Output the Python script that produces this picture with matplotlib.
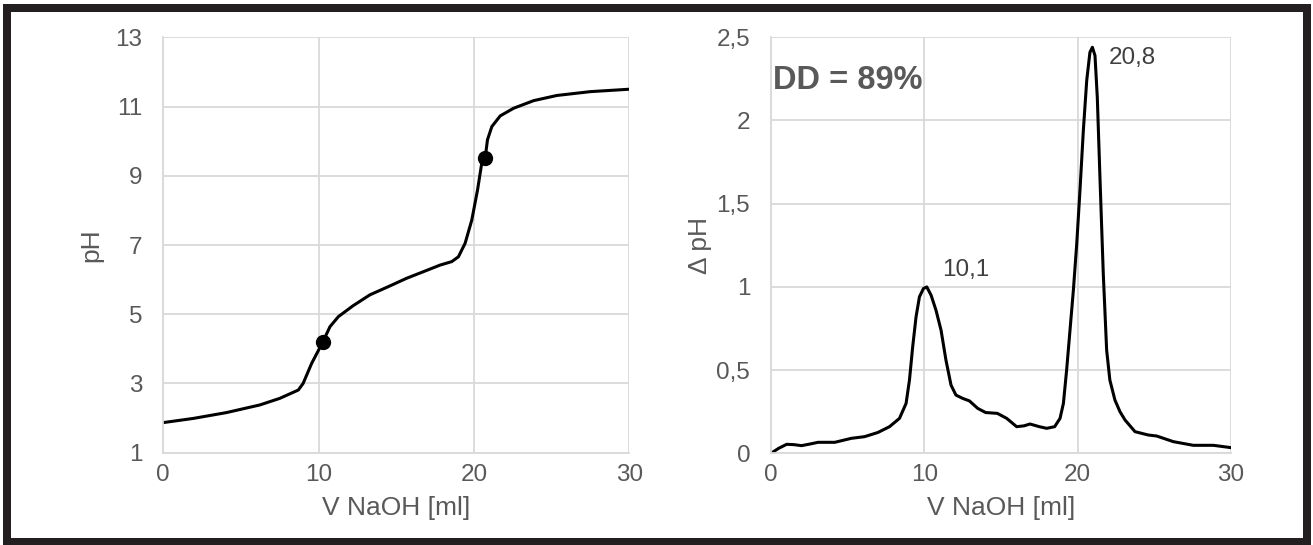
import matplotlib
matplotlib.use("Agg")
import matplotlib.pyplot as plt
from matplotlib.patches import Rectangle

plt.rcParams['font.family'] = ['Liberation Sans', 'DejaVu Sans']

# ---- data: titration curve (pH vs V NaOH) ----
v_ph = [0.0, 1.93, 4.08, 6.22, 7.5, 8.69, 9.0, 9.55, 10.26, 10.73, 11.27, 12.2, 13.3,
        14.6, 15.67, 16.75, 17.82, 18.57, 19.0, 19.43, 19.86, 20.23, 20.5, 20.72,
        20.87, 21.15, 21.69, 22.55, 23.84, 25.34, 27.49, 30.0]
ph = [1.87, 1.99, 2.16, 2.38, 2.57, 2.81, 3.0, 3.58, 4.19, 4.64, 4.93, 5.24, 5.56,
      5.82, 6.04, 6.23, 6.42, 6.52, 6.66, 7.05, 7.72, 8.59, 9.36, 9.51,
      10.04, 10.42, 10.73, 10.95, 11.17, 11.32, 11.43, 11.50]
eq_v = [10.26, 20.72]
eq_ph = [4.19, 9.51]

# ---- data: derivative curve (delta pH vs V NaOH) ----
v_d = [0.0, 0.5, 1.02, 1.5, 1.99, 2.5, 3.07, 4.16, 5.24, 6.1, 6.97, 7.73, 8.38, 8.81,
       9.03, 9.24, 9.46, 9.68, 9.94, 10.16, 10.44, 10.76, 11.09, 11.41, 11.74, 12.06,
       12.5, 12.94, 13.48, 14.0, 14.76, 15.37, 16.02, 16.5, 16.89, 17.5, 17.98, 18.5,
       18.85, 19.07, 19.28, 19.5, 19.72, 19.94, 20.15, 20.37, 20.59, 20.8, 20.96, 21.13,
       21.28, 21.46, 21.67, 21.89, 22.1, 22.43, 22.76, 23.09, 23.74, 24.6, 25.15, 26.24,
       27.54, 28.85, 30.0]
dph = [0.0, 0.03, 0.054, 0.052, 0.046, 0.055, 0.066, 0.066, 0.09, 0.10, 0.125, 0.16, 0.21, 0.30,
       0.44, 0.64, 0.82, 0.94, 0.99, 1.0, 0.95, 0.86, 0.74, 0.56, 0.41, 0.35,
       0.33, 0.315, 0.27, 0.245, 0.24, 0.21, 0.16, 0.165, 0.176, 0.16, 0.15, 0.16,
       0.21, 0.30, 0.50, 0.74, 0.98, 1.26, 1.58, 1.94, 2.24, 2.41, 2.44, 2.39,
       2.14, 1.64, 1.08, 0.62, 0.44, 0.32, 0.25, 0.20, 0.13, 0.11, 0.104, 0.07,
       0.048, 0.048, 0.034]
peak_labels = ["10,1", "20,8"]
peak_pos = [(10.1, 1.0), (20.96, 2.44)]
dd_text = "DD = 89%"

left_xticks = [0, 10, 20, 30]
left_yticks = [1, 3, 5, 7, 9, 11, 13]
right_yticks = [0, 0.5, 1, 1.5, 2, 2.5]
right_yticklabels = ["0", "0,5", "1", "1,5", "2", "2,5"]

W, H = 1313, 545
fig = plt.figure(figsize=(W / 100, H / 100), dpi=100)
fig.patch.set_facecolor('white')

grid_c = '#d9d9d9'
txt_c = '#595959'
tick_fs = 17.5
lab_fs = 19

def style(ax):
    for s in ['top', 'right']:
        ax.spines[s].set_visible(False)
    for s in ['left', 'bottom']:
        ax.spines[s].set_color(grid_c)
        ax.spines[s].set_linewidth(1.3)
    ax.grid(True, color=grid_c, linewidth=1.3)
    ax.set_axisbelow(True)
    ax.tick_params(length=0, labelsize=tick_fs, labelcolor=txt_c)
    ax.tick_params(axis='y', pad=15)
    ax.tick_params(axis='x', pad=8)

ax1 = fig.add_axes([163.3 / W, 1 - 452.7 / H, (629.3 - 163.3) / W, (452.7 - 37.3) / H])
ax1.plot(v_ph, ph, color='black', lw=2.2, solid_capstyle='round', solid_joinstyle='round')
ax1.plot(eq_v, eq_ph, 'o', color='black', markersize=10)
ax1.set_xlim(0, 30)
ax1.set_ylim(1, 13)
ax1.set_xticks(left_xticks)
ax1.set_yticks(left_yticks)
style(ax1)
ax1.set_xlabel("V NaOH [ml]", fontsize=lab_fs, color=txt_c, labelpad=7)
ax1.set_ylabel("pH", fontsize=lab_fs, color=txt_c, labelpad=9)

ax2 = fig.add_axes([771 / W, 1 - 453.3 / H, (1231 - 771) / W, (453.3 - 37.3) / H])
ax2.plot(v_d, dph, color='black', lw=2.2, solid_capstyle='round', solid_joinstyle='round')
ax2.set_xlim(0, 30)
ax2.set_ylim(0, 2.5)
ax2.set_xticks(left_xticks)
ax2.set_yticks(right_yticks)
ax2.set_yticklabels(right_yticklabels)
style(ax2)
ax2.set_xlabel("V NaOH [ml]", fontsize=lab_fs, color=txt_c, labelpad=7)
ax2.set_ylabel("\u0394 pH", fontsize=lab_fs, color=txt_c, labelpad=3)

offsets = [(12, 12), (12, -8)]
for lab, (px, py), off in zip(peak_labels, peak_pos, offsets):
    ax2.annotate(lab, (px, py), xytext=off, textcoords='offset points',
                 fontsize=tick_fs, color='#404040', ha='left', va='center')
ax2.text(0.005, 0.897, dd_text, transform=ax2.transAxes, fontsize=23.5, fontweight='bold',
         color='#595959', ha='left', va='center')

# figure frame
bw = 8
fig.patches.append(Rectangle((7 / W, 1 - 541.5 / H), (1306.5 - 7) / W, (541.5 - 7.5) / H,
                             transform=fig.transFigure, fill=False, edgecolor='#231f20',
                             linewidth=bw * 72 / 100, joinstyle='miter'))

fig.savefig("out.png", dpi=100, facecolor='white')
